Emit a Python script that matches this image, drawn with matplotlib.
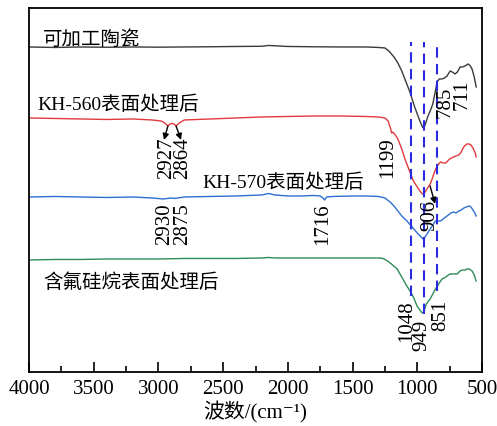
import numpy as np
import matplotlib
matplotlib.use("Agg")
import matplotlib.pyplot as plt

plt.rcParams['font.family'] = ['Liberation Serif', 'Noto Sans CJK SC', 'DejaVu Serif']

# ---- data (wavenumber cm-1, transmittance a.u.) ----
wn_black = [4000, 3800, 3600, 3400, 3200, 3000, 2800, 2600, 2400, 2200, 2150, 2000, 1800, 1600, 1400, 1300,
            1250, 1220, 1180, 1150, 1120, 1090, 1060, 1040, 1020, 1000, 980, 960, 950, 940, 920, 900, 880,
            860, 847, 830, 808, 790, 770, 746, 730, 708, 690, 669, 650, 631, 607, 590, 577, 560, 545]
t_black = [325, 324.5, 325, 324.7, 325, 324.8, 325, 325.2, 325.5, 325.7, 326.5, 325.5, 325.2, 325, 325, 324.5,
           324, 321, 315, 309, 301, 291, 281, 273, 265, 258, 251, 245, 244, 247, 255, 261, 268,
           281, 290, 293, 293, 294, 296, 301, 300, 298, 300, 305, 305, 306, 308, 306, 303, 295, 285]

wn_red = [4000, 3800, 3600, 3400, 3200, 3050, 2980, 2950, 2927, 2910, 2895, 2880, 2864, 2840, 2800, 2600,
          2400, 2200, 2000, 1800, 1600, 1400, 1300, 1250, 1225, 1205, 1199, 1190, 1170, 1150, 1120, 1090,
          1060, 1030, 1000, 980, 960, 950, 935, 915, 900, 885, 870, 860, 850, 835, 820, 800, 780, 765,
          750, 735, 720, 700, 680, 665, 650, 635, 615, 600, 585, 570, 555, 545]
t_red = [254, 253.5, 253, 252.5, 253, 252, 251, 249, 246, 248, 248.5, 248, 246, 249, 252, 253,
         254, 255, 255.5, 256, 256, 255.5, 255, 254, 251, 243, 239, 240, 237, 233, 223, 211,
         201, 191, 185, 181, 178, 178, 181, 185, 188, 193, 199, 202, 205, 208, 210, 209, 209, 211,
         213, 214, 215, 216, 217, 219, 223, 226, 228, 228, 227, 224, 220, 215]

wn_blue = [4000, 3800, 3600, 3400, 3200, 3050, 2964, 2930, 2900, 2875, 2800, 2600, 2400, 2200, 2150, 2100,
           2000, 1900, 1800, 1750, 1730, 1716, 1700, 1650, 1500, 1400, 1300, 1250, 1210, 1180, 1150, 1120,
           1080, 1040, 1000, 970, 955, 940, 920, 900, 880, 860, 840, 820, 800, 780, 760, 740, 720, 700,
           680, 660, 640, 620, 600, 585, 570, 555, 545]
t_blue = [175, 175.5, 175, 174.5, 175, 174, 173, 173.5, 174, 173.5, 175, 175.5, 176, 177, 178.5, 177,
          176, 176, 176.5, 176, 174, 172, 175, 175.5, 176, 176, 175.5, 174, 170, 166, 161, 156,
          151, 145, 139, 135, 133, 135, 139, 143, 147, 151, 151, 151, 153, 155, 157, 159, 160, 159,
          161, 162, 164, 165, 166, 165, 162, 159, 156]

wn_green = [4000, 3800, 3600, 3400, 3200, 3000, 2800, 2600, 2400, 2200, 2150, 2100, 2000, 1800, 1600, 1400,
            1300, 1264, 1230, 1200, 1156, 1120, 1090, 1056, 1030, 1002, 980, 963, 950, 930, 901, 880,
            860, 847, 830, 808, 780, 760, 746, 720, 700, 692, 670, 650, 630, 615, 600, 576, 560, 546]
t_green = [112, 112.5, 112.5, 113, 113, 113, 113.5, 113.5, 113.5, 114, 114.5, 114, 114, 114, 114, 114,
           114, 113.5, 111, 108, 103, 95, 88, 81, 75, 66, 62, 59, 60, 68, 73, 78,
           83, 85, 89, 93, 95, 97, 98, 98, 98, 98, 101, 102, 102, 103, 103, 101, 97, 91]

series_names = ['可加工陶瓷', 'KH-560表面处理后', 'KH-570表面处理后', '含氟硅烷表面处理后']
peak_lines = [1048, 949, 851]
x_ticks = [4000, 3500, 3000, 2500, 2000, 1500, 1000, 500]

fig = plt.figure(figsize=(4.97, 4.27), dpi=100)
ax = fig.add_axes([0.0584, 0.1265, 0.9114, 0.8525])

ax.plot(wn_black, t_black, color='#3a3a3a', lw=1.0)
ax.plot(wn_red, t_red, color='#e03a3e', lw=1.0)
ax.plot(wn_blue, t_blue, color='#2f6fd0', lw=1.0)
ax.plot(wn_green, t_green, color='#2e8b57', lw=1.0)

# dashed reference lines
ax.vlines(peak_lines, [76, 58, 81], [330, 330, 330], colors='#2a2ae0', linestyles=(0, (5, 3)), lw=1.5)

ax.set_xlim(4000, 500)
ax.set_ylim(0, 364)
ax.set_yticks([])
ax.set_xticks(x_ticks)
ax.set_xticks(np.arange(3750, 500, -500), minor=True)
ax.tick_params(axis='x', which='major', direction='in', length=7, width=1.2, labelsize=15, pad=5)
ax.tick_params(axis='x', which='minor', direction='in', length=4, width=1.2)
for s in ax.spines.values():
    s.set_linewidth(1.3)
ax.set_xlabel('波数/(cm\u207b\u00b9)', fontsize=15, labelpad=2)

fs = 14
ax.text(3892, 333, series_names[0], fontsize=fs, va='center', ha='left')
ax.text(3938, 268, series_names[1], fontsize=fs, va='center', ha='left')
ax.text(2663, 190, series_names[2], fontsize=fs, va='center', ha='left')
ax.text(3892, 90, series_names[3], fontsize=fs, va='center', ha='left')

nfs = 15
labels = [('2927', 2935, 236), ('2864', 2810, 236), ('1199', 1226, 236),
          ('785', 785, 286), ('711', 654, 293),
          ('2930', 2949, 170), ('2875', 2810, 170), ('1716', 1728, 170), ('906', 901, 173),
          ('1048', 1079, 73), ('949', 963, 53), ('851', 816, 73)]
for t, x, y in labels:
    ax.text(x, y, t, rotation=90, ha='center', va='top', fontsize=nfs)

arrow = dict(arrowstyle='-|>', color='black', lw=1.0, mutation_scale=9, shrinkA=0, shrinkB=0)
ax.annotate('', xy=(2957, 232), xytext=(2927, 246), arrowprops=arrow)
ax.annotate('', xy=(2825, 232), xytext=(2864, 246), arrowprops=arrow)
ax.annotate('', xy=(862, 168), xytext=(901, 186), arrowprops=arrow)

fig.savefig('out.png', dpi=100)
